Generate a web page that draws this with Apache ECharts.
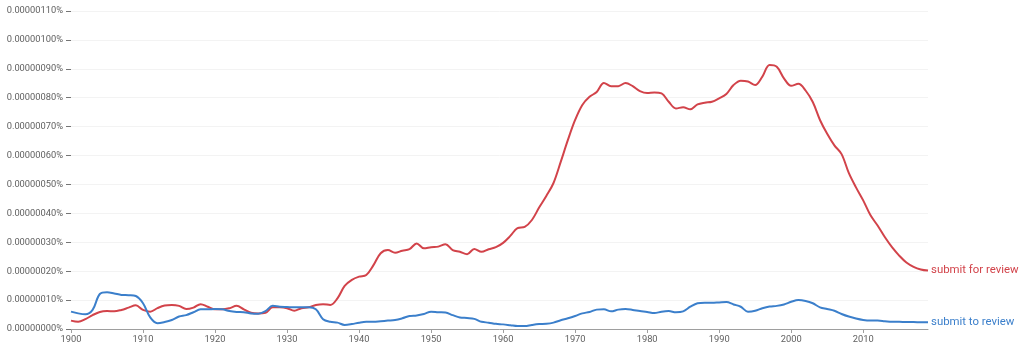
<!DOCTYPE html>
<html>
<head>
<meta charset="utf-8">
<style>
  html, body { margin: 0; padding: 0; background: #fff; }
  #chart { width: 1024px; height: 345px; }
</style>
<script src="https://cdn.jsdelivr.net/npm/echarts@6/dist/echarts.min.js"></script>
</head>
<body>
<div id="chart"></div>
<script>
// Years covered by the series
const years = [];
for (let y = 1900; y <= 2019; y++) years.push(y);

// Frequencies in units of 1e-8 %  (e.g. 90 -> 0.00000090%)
const submitForReview = [
  2.9, 2.5, 3.4, 4.8, 5.9, 6.2, 6.1, 6.6, 7.4, 8.2,
  6.6, 6.0, 7.2, 8.1, 8.3, 8.0, 6.9, 7.4, 8.6, 7.7,
  6.8, 6.8, 7.2, 8.0, 6.8, 5.6, 5.4, 5.6, 7.5, 7.5,
  7.2, 6.3, 7.2, 7.5, 8.3, 8.6, 8.3, 10.6, 14.9, 17.0,
  18.1, 18.7, 22.1, 26.2, 27.3, 26.4, 27.1, 27.6, 29.6, 27.9,
  28.3, 28.5, 29.3, 27.3, 26.7, 25.9, 27.7, 26.7, 27.6, 28.3,
  29.8, 32.2, 34.9, 35.3, 37.7, 42.0, 46.0, 50.5, 57.8, 65.4,
  72.3, 77.5, 80.3, 82.0, 85.1, 84.0, 84.0, 85.1, 84.0, 82.3,
  81.6, 81.8, 81.5, 78.6, 76.3, 76.7, 76.0, 77.7, 78.3, 78.6,
  79.8, 81.3, 84.4, 85.9, 85.6, 84.4, 87.3, 91.3, 90.7, 86.7,
  84.1, 84.8, 82.5, 78.5, 72.3, 67.5, 63.5, 60.5, 54.0, 49.0,
  44.5, 39.4, 35.8, 31.8, 28.3, 25.4, 23.0, 21.5, 20.6, 20.2
];

const submitToReview = [
  6.0, 5.4, 5.1, 6.6, 12.1, 12.7, 12.3, 11.8, 11.7, 11.4,
  8.9, 4.0, 2.0, 2.4, 3.1, 4.3, 4.8, 5.8, 6.8, 6.8,
  6.9, 6.8, 6.2, 5.9, 5.8, 5.4, 5.3, 6.2, 8.0, 7.7,
  7.6, 7.5, 7.5, 7.5, 6.8, 3.4, 2.5, 2.2, 1.4, 1.7,
  2.2, 2.5, 2.5, 2.7, 2.9, 3.1, 3.7, 4.5, 4.7, 5.2,
  6.0, 5.8, 5.7, 4.8, 4.0, 3.8, 3.5, 2.5, 2.2, 1.8,
  1.6, 1.3, 1.0, 1.0, 1.4, 1.7, 1.8, 2.2, 3.0, 3.7,
  4.5, 5.4, 5.9, 6.7, 6.8, 6.1, 6.7, 6.9, 6.6, 6.2,
  5.9, 5.5, 6.0, 6.2, 5.8, 6.1, 7.7, 8.9, 9.1, 9.1,
  9.2, 9.3, 8.5, 7.7, 6.0, 6.3, 7.2, 7.8, 8.0, 8.5,
  9.4, 10.0, 9.7, 8.9, 7.5, 6.9, 6.3, 5.2, 4.3, 3.6,
  3.1, 2.9, 2.9, 2.7, 2.5, 2.5, 2.4, 2.4, 2.3, 2.3
];

// Axis tick values
const xTicks = [1900, 1910, 1920, 1930, 1940, 1950, 1960, 1970, 1980, 1990, 2000, 2010];
const yTicks = [0, 10, 20, 30, 40, 50, 60, 70, 80, 90, 100, 110];

const seriesNames = ['submit for review', 'submit to review'];
const seriesColors = ['#d2434a', '#3b7fcb'];

const pairs = vals => years.map((y, i) => [y, vals[i]]);

const chart = echarts.init(document.getElementById('chart'), null, { renderer: 'canvas' });

const makeSeries = (name, vals, color) => ({
  name: name,
  type: 'line',
  data: pairs(vals),
  smooth: 0.35,
  showSymbol: false,
  symbol: 'none',
  lineStyle: { color: color, width: 2 },
  itemStyle: { color: color },
  endLabel: {
    show: true,
    formatter: '{a}',
    color: color,
    fontSize: 11.4,
    fontFamily: 'Roboto',
    distance: 3
  },
  emphasis: { disabled: true },
  animation: false
});

chart.setOption({
  animation: false,
  backgroundColor: '#ffffff',
  textStyle: { fontFamily: 'Roboto' },
  grid: {
    left: 71, right: 96, top: 11, bottom: 16,
    containLabel: false,
    outerBoundsMode: 'none'
  },
  xAxis: {
    type: 'value',
    min: 1900,
    max: 2019,
    interval: 10,
    axisLine: { show: true, lineStyle: { color: '#9e9e9e', width: 1 } },
    axisTick: { show: true, length: 4, lineStyle: { color: '#9e9e9e' }, customValues: xTicks },
    axisLabel: {
      color: '#616161',
      fontSize: 9.3,
      margin: 6,
      customValues: xTicks,
      formatter: v => String(v)
    },
    splitLine: { show: false }
  },
  yAxis: {
    type: 'value',
    min: 0,
    max: 110,
    interval: 10,
    axisLine: { show: false },
    axisTick: { show: true, length: 5, lineStyle: { color: '#757575' }, customValues: yTicks },
    axisLabel: {
      color: '#616161',
      fontSize: 9.3,
      margin: 8,
      customValues: yTicks,
      formatter: v => (v * 1e-8).toFixed(8) + '%'
    },
    splitLine: { show: true, lineStyle: { color: '#f3f3f3', width: 1 } }
  },
  series: [
    makeSeries(seriesNames[0], submitForReview, seriesColors[0]),
    makeSeries(seriesNames[1], submitToReview, seriesColors[1])
  ]
});
</script>
</body>
</html>
